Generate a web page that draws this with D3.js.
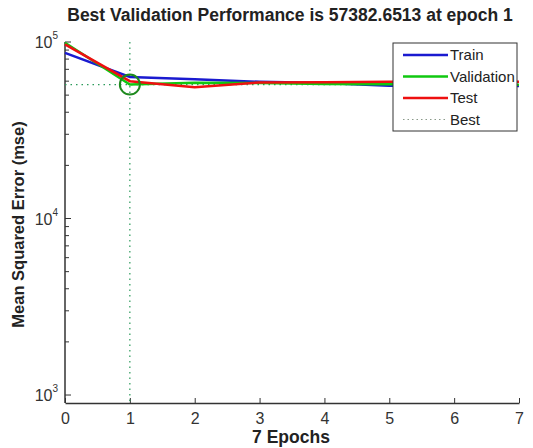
<!DOCTYPE html>
<html>
<head>
<meta charset="utf-8">
<script src="https://cdn.jsdelivr.net/npm/d3@7"></script>
<style>
  body { margin: 0; background: #fff; }
  text { font-family: "Liberation Sans", Arial, sans-serif; fill: #222; }
</style>
</head>
<body>
<script>
var width = 533,
    height = 448;

var margin = {top: 42, right: 14, bottom: 45, left: 65},
    graphWidth = width - margin.left - margin.right,
    graphHeight = height - margin.top - margin.bottom;

// data
var epochs = [0, 1, 2, 3, 4, 5, 6, 7];
var train = [86700, 63400, 61500, 59500, 58500, 56500, 56500, 56300];
var validation = [99000, 57382.6513, 58800, 58500, 57800, 57600, 57500, 57300];
var test = [97000, 60000, 55500, 59000, 59200, 59500, 59500, 59500];
var bestEpoch = 1,
    bestValue = 57382.6513;
var yTickLabels = [3, 4, 5];

var series = [
  {name: "Train", values: train, color: "#1a1ad0"},
  {name: "Validation", values: validation, color: "#10c810"},
  {name: "Test", values: test, color: "#ee1010"}
];

var svg = d3.select("body").append("svg")
  .attr("width", width)
  .attr("height", height)
  .attr("id", "canvas");

var g = svg.append("g")
  .attr("transform", "translate(" + margin.left + "," + margin.top + ")");

var xScale = d3.scaleLinear()
  .domain([0, 7])
  .range([0, graphWidth]);
var yScale = d3.scaleLog()
  .domain([Math.pow(10, 3 - 8 / 177), 1e5])
  .range([graphHeight, 0]);

// minor ticks on log axis
var minor = [];
[100, 1000, 10000].forEach(function(d) {
  for (var k = 1; k < 10; k++) {
    var v = d * k;
    if (v >= yScale.domain()[0] && v <= 1e5) minor.push(v);
  }
});
minor.push(1e5);

g.selectAll(".ytick").data(minor).enter().append("line")
  .attr("x1", 0).attr("x2", function(d) {
    return [1e3, 1e4, 1e5].indexOf(d) >= 0 ? 6 : 4;
  })
  .attr("y1", function(d) { return yScale(d); })
  .attr("y2", function(d) { return yScale(d); })
  .attr("stroke", "#333").attr("stroke-width", 1);

var xAxisCall = d3.axisBottom(xScale).ticks(7).tickSize(-5).tickPadding(10).tickSizeOuter(0);
var xAxis = g.append("g")
  .attr("transform", "translate(0," + graphHeight + ")")
  .call(xAxisCall);
xAxis.select(".domain").attr("stroke", "#333").attr("stroke-width", 1.5);
xAxis.selectAll(".tick line").attr("stroke", "#333");
xAxis.selectAll(".tick text")
  .style("font-size", "16px")
  .style("fill", "#333");

g.append("line")
  .attr("x1", 0).attr("x2", 0)
  .attr("y1", 0).attr("y2", graphHeight)
  .attr("stroke", "#333").attr("stroke-width", 1.5);

// y tick labels 10^n
var ylab = g.selectAll(".ylab").data(yTickLabels).enter().append("text")
  .attr("x", -7)
  .attr("y", function(d) { return yScale(Math.pow(10, d)) + 6; })
  .attr("text-anchor", "end")
  .style("font-size", "16px")
  .style("fill", "#333");
ylab.append("tspan").text("10");
ylab.append("tspan")
  .attr("dy", -9)
  .style("font-size", "10px")
  .text(function(d) { return d; });

// best lines
g.append("line")
  .attr("x1", xScale(bestEpoch)).attr("x2", xScale(bestEpoch))
  .attr("y1", 0).attr("y2", graphHeight)
  .attr("stroke", "#2a9a5a").attr("stroke-width", 1.2)
  .attr("stroke-dasharray", "1.5,4");
g.append("line")
  .attr("x1", 0).attr("x2", graphWidth)
  .attr("y1", yScale(bestValue)).attr("y2", yScale(bestValue))
  .attr("stroke", "#2a9a5a").attr("stroke-width", 1.2)
  .attr("stroke-dasharray", "1.5,4");

var line = d3.line()
  .x(function(d, i) { return xScale(epochs[i]); })
  .y(function(d) { return yScale(d); });

series.forEach(function(s) {
  g.append("path")
    .datum(s.values)
    .attr("d", line)
    .attr("fill", "none")
    .attr("stroke", s.color)
    .attr("stroke-width", 2.5);
});

g.append("circle")
  .attr("cx", xScale(bestEpoch))
  .attr("cy", yScale(bestValue))
  .attr("r", 10)
  .attr("fill", "none")
  .attr("stroke", "#1e8a1e")
  .attr("stroke-width", 2);

// legend
var legend = svg.append("g").attr("transform", "translate(393,43)");
legend.append("rect")
  .attr("width", 124).attr("height", 88)
  .attr("fill", "#fff").attr("stroke", "#333").attr("stroke-width", 1);
var legendItems = series.concat([{name: "Best", color: "#2a9a5a", dotted: true}]);
legendItems.forEach(function(s, i) {
  var y = 12 + i * 21.5;
  legend.append("line")
    .attr("x1", 10).attr("x2", 55)
    .attr("y1", y).attr("y2", y)
    .attr("stroke", s.dotted ? "#8a9a8a" : s.color)
    .attr("stroke-width", s.dotted ? 1.2 : 2.5)
    .attr("stroke-dasharray", s.dotted ? "1.5,3" : null);
  legend.append("text")
    .attr("x", 57).attr("y", y + 5)
    .style("font-size", "15px")
    .text(s.name);
});

// titles
svg.append("text")
  .attr("x", 290).attr("y", 21)
  .attr("text-anchor", "middle")
  .style("font-size", "17.5px")
  .style("font-weight", "bold")
  .text("Best Validation Performance is 57382.6513 at epoch 1");

svg.append("text")
  .attr("x", 291).attr("y", 443)
  .attr("text-anchor", "middle")
  .style("font-size", "17.5px")
  .style("font-weight", "bold")
  .text("7 Epochs");

svg.append("text")
  .attr("transform", "translate(24," + (margin.top + graphHeight / 2 + 2) + "), rotate(-90)")
  .attr("text-anchor", "middle")
  .style("font-size", "16.5px")
  .style("font-weight", "bold")
  .text("Mean Squared Error  (mse)");
</script>
</body>
</html>
